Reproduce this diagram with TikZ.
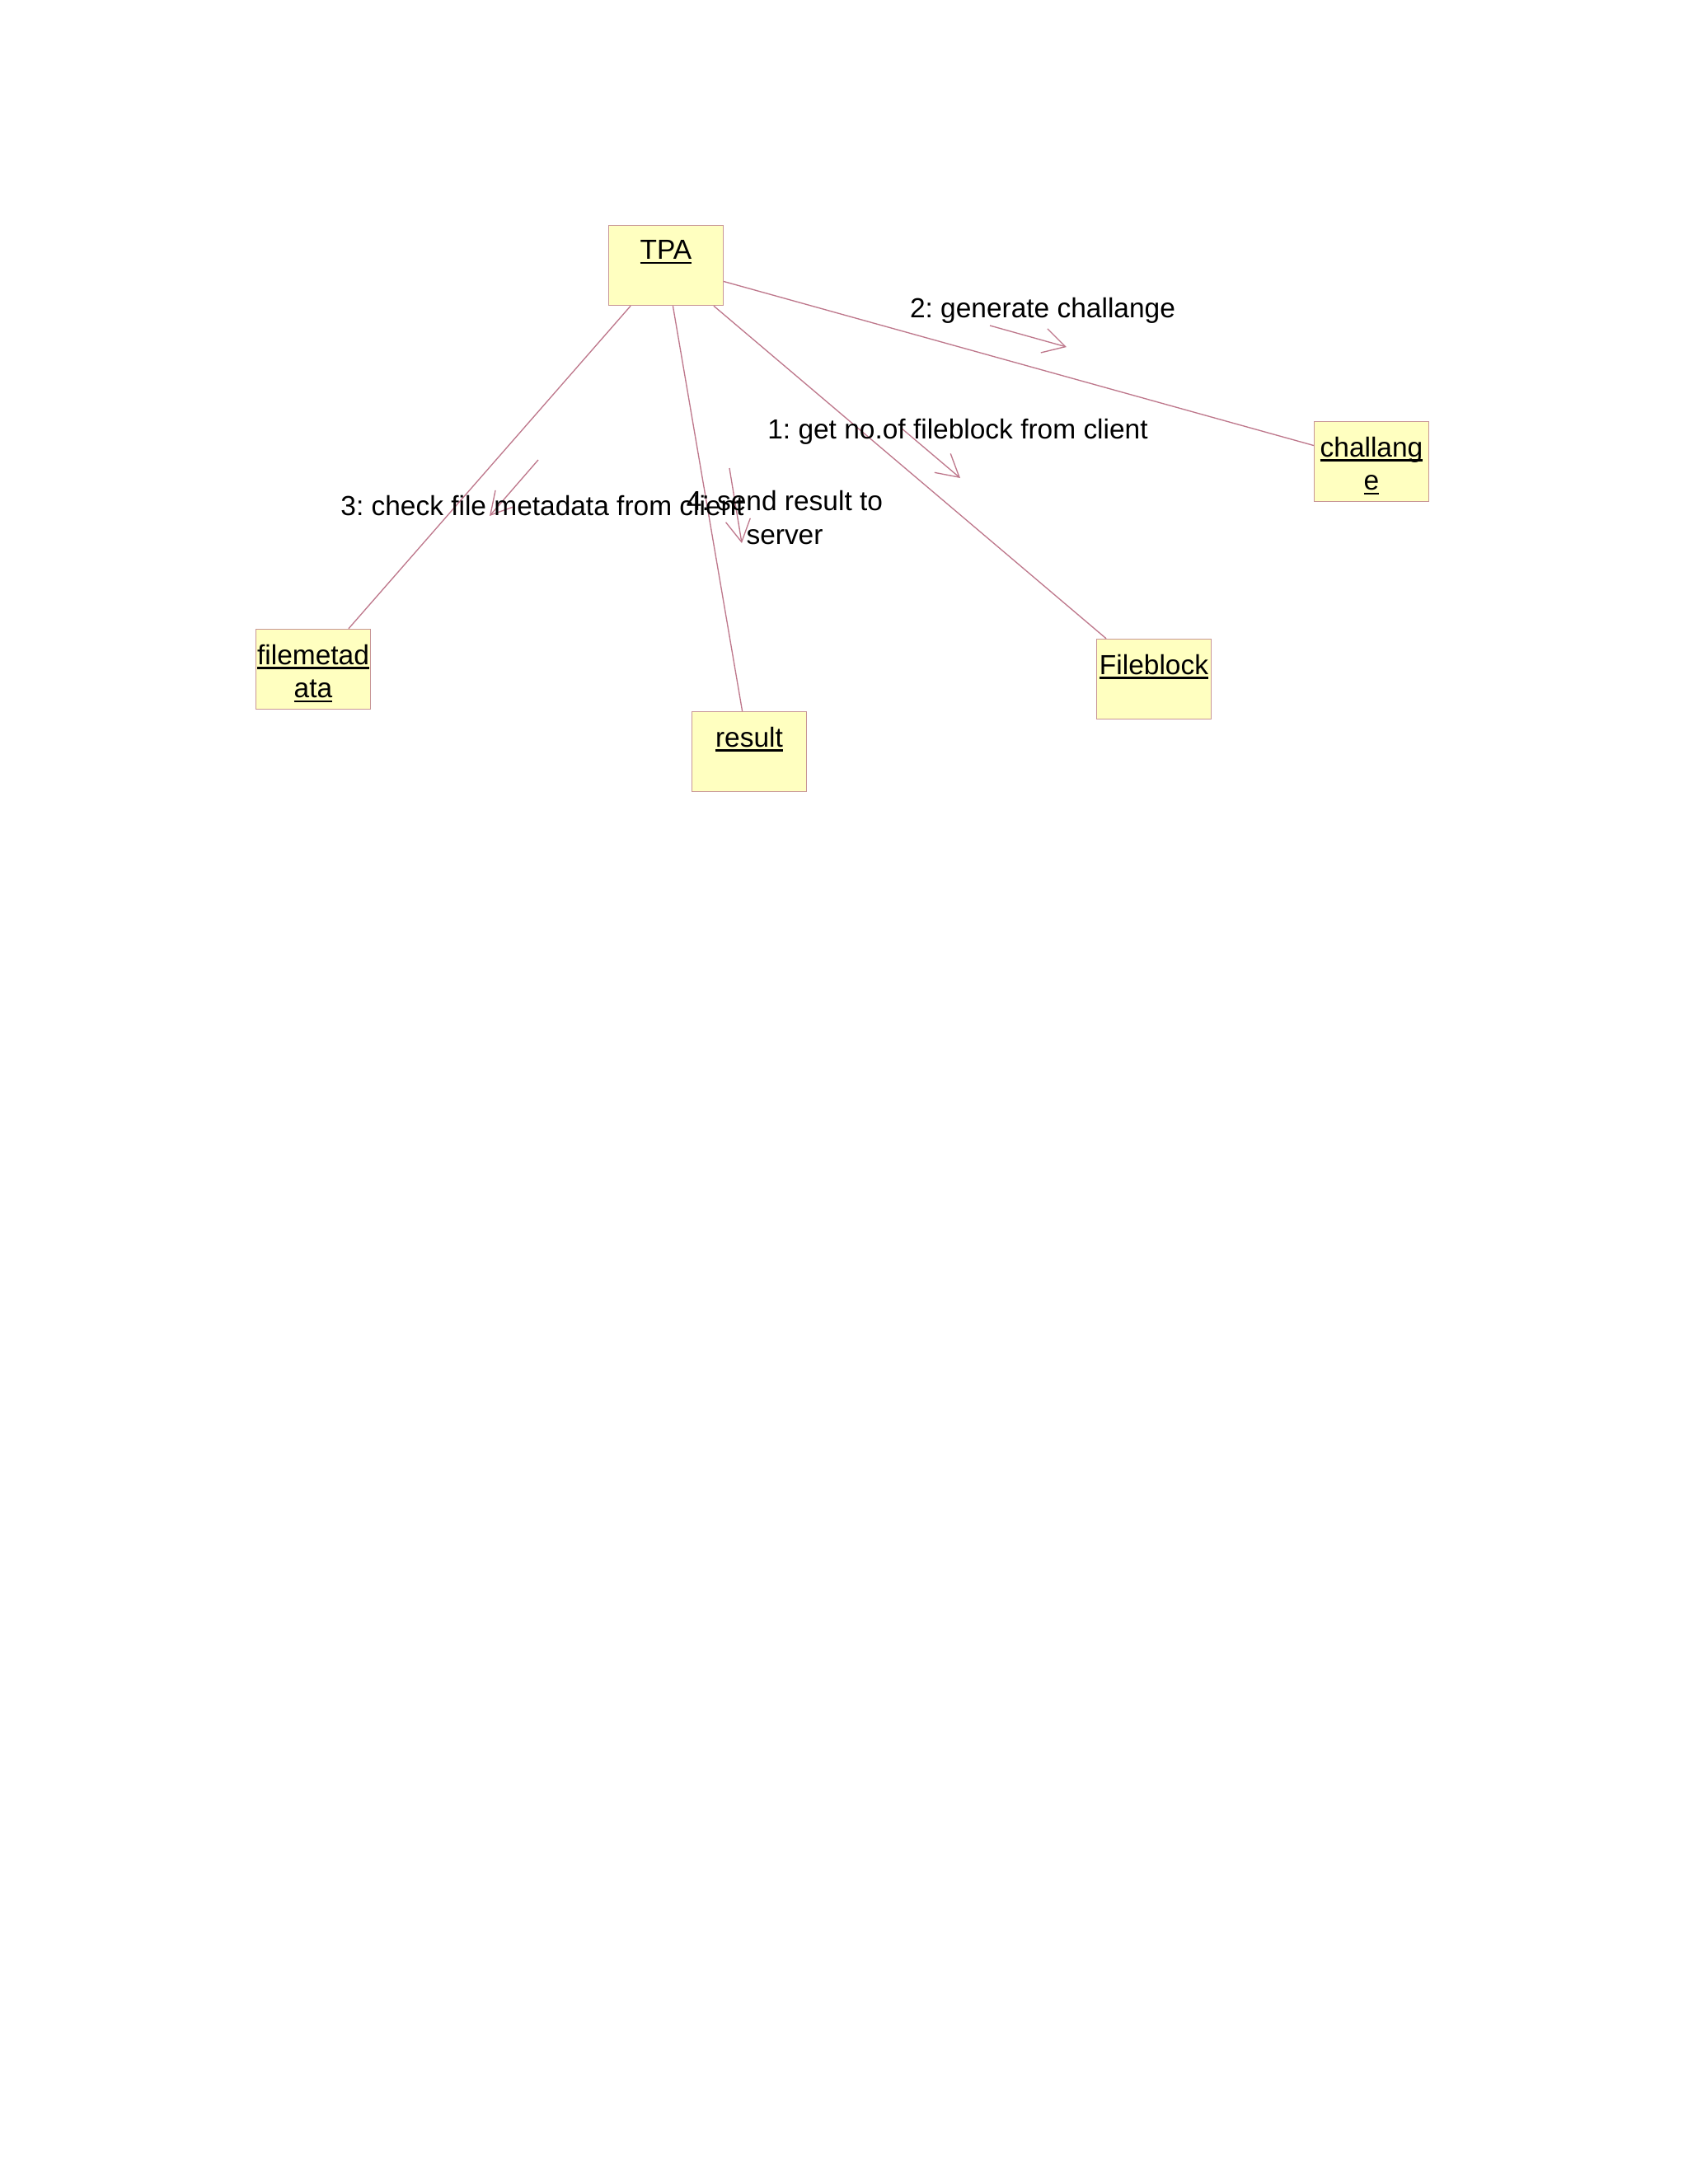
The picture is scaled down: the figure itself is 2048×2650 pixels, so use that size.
\documentclass[tikz,border=0pt]{standalone}
\usepackage{fontspec}
\setmainfont{Liberation Sans}
\usetikzlibrary{arrows.meta}

\definecolor{objfill}{RGB}{255,255,192}
\definecolor{objline}{RGB}{200,150,150}
\definecolor{msgline}{RGB}{190,120,140}

\newcommand{\objul}[1]{\setbox0=\hbox{#1}\rlap{\rule[-1.6pt]{\wd0}{0.6pt}}\box0}

\tikzset{
  obj/.style={draw=objline, fill=objfill, rectangle, minimum width=41.5pt,
    minimum height=29pt, inner sep=0pt},
  objname/.style={anchor=north, inner sep=0pt, yshift=-5.5pt, align=center},
  link/.style={draw=msgline, line width=0.4pt},
  msg/.style={draw=msgline, line width=0.4pt, -{Straight Barb[length=8pt,width=9pt]}},
  msgtext/.style={inner sep=0pt, align=center}
}

\begin{document}
\frenchspacing
\begin{tikzpicture}[x=0.2988pt, y=-0.2988pt]
\useasboundingbox (0,0) rectangle (2048,2650);

% objects
\node[obj] (tpa) at (808,322) {};
\node[objname] (tpaname) at (tpa.north) {\objul{TPA}};
\node[obj] (chal) at (1664,560) {};
\node[objname] (chalname) at (chal.north) {\objul{challang}\\\objul{e}};
\node[obj] (meta) at (380,812) {};
\node[objname] (metaname) at (meta.north) {\objul{filemetad}\\\objul{ata}};
\node[obj] (res) at (909,912) {};
\node[objname] (resname) at (res.north) {\objul{result}};
\node[obj] (fblk) at (1400,824) {};
\node[objname] (fblkname) at (fblk.north) {\objul{Fileblock}};

% links
\draw[link] (tpa) -- (chal);
\draw[link] (tpa) -- (fblk);
\draw[link] (tpa) -- (res);
\draw[link] (tpa) -- (meta);

% messages
\coordinate (m1a) at (1093,519);
\coordinate (m1b) at (1165,580);
\coordinate (m2a) at (1201,395);
\coordinate (m2b) at (1294,421);
\coordinate (m3a) at (653,558);
\coordinate (m3b) at (594,626);
\coordinate (m4a) at (885,568);
\coordinate (m4b) at (900,659);
\draw[msg] (m1a) -- (m1b);
\draw[msg] (m2a) -- (m2b);
\draw[msg] (m3a) -- (m3b);
\draw[msg] (m4a) -- (m4b);

\node[msgtext] (m1) at (1162,524) {1: get no.of fileblock from client};
\node[msgtext] (m2) at (1265,377) {2: generate challange};
\node[msgtext] (m3) at (658,614) {3: check file metadata from client};
\node[msgtext] (m4) at (952,628) {4: send result to\\server};
\end{tikzpicture}
\end{document}
